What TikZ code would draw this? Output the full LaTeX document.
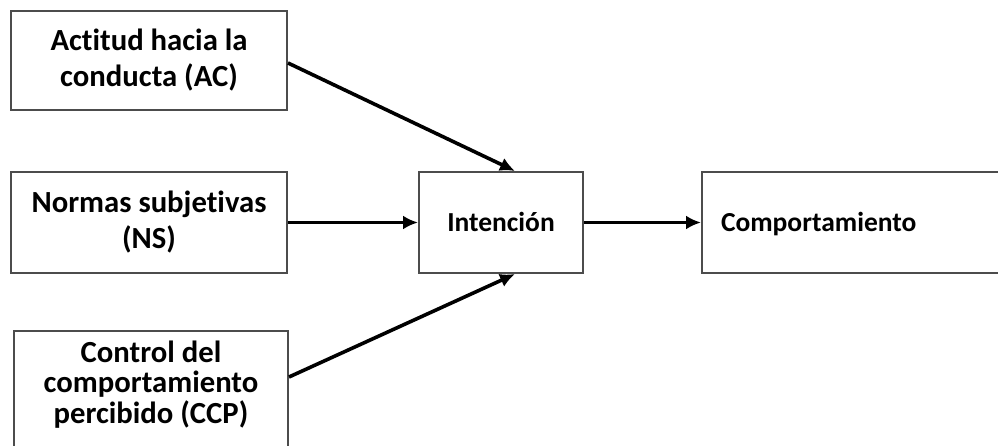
\documentclass[tikz,border=0pt]{standalone}
\usepackage{fontspec}
\setmainfont{Carlito}[Ligatures=NoCommon]
\usetikzlibrary{arrows.meta, positioning}

\begin{document}
\begin{tikzpicture}[x=1pt, y=-1pt,
    box/.style={draw=black!70, line width=2pt, fill=white, align=center,
        inner sep=0pt, font=\bfseries\fontsize{30.7}{36}\selectfont},
    plainbox/.style={box, minimum height=101pt, text height=18pt, text depth=0pt,
        font=\bfseries\fontsize{27.5}{33}\selectfont},
    link/.style={-{Latex[length=15pt, width=14pt]}, line width=3.6pt}
]
  \useasboundingbox (0,0) rectangle (998,446);
  \clip (0,0) rectangle (998,446);

  % the three inputs
  \node[box, minimum width=276pt, minimum height=99pt] (ac) at (149,60.5) {Actitud hacia la\\conducta (AC)};
  \node[box, minimum width=276pt, minimum height=101pt] (ns) at (149,222.5) {Normas subjetivas\\(NS)};
  \node[box, minimum width=274pt, anchor=north, text height=92pt, text depth=40pt,
      font=\bfseries\fontsize{30.7}{30.5}\selectfont] (ccp) at (151,330) {Control del\\comportamiento\\percibido (CCP)};

  \node[plainbox, minimum width=164pt] (int) at (501,222.5) {Intención};
  \node[plainbox, text width=300pt, inner xsep=19pt, align=left,
      anchor=west] (comp) at (701,222.5) {Comportamiento};

  % arrows
  \draw[link] ([yshift=-2.5pt]ac.east) -- ([xshift=14pt]int.north);
  \draw[link] (ns) -- (int);
  \draw[link] ([yshift=-47pt]ccp.north east) -- ([xshift=14pt]int.south);
  \draw[link] (int) -- (comp);
\end{tikzpicture}
\end{document}
